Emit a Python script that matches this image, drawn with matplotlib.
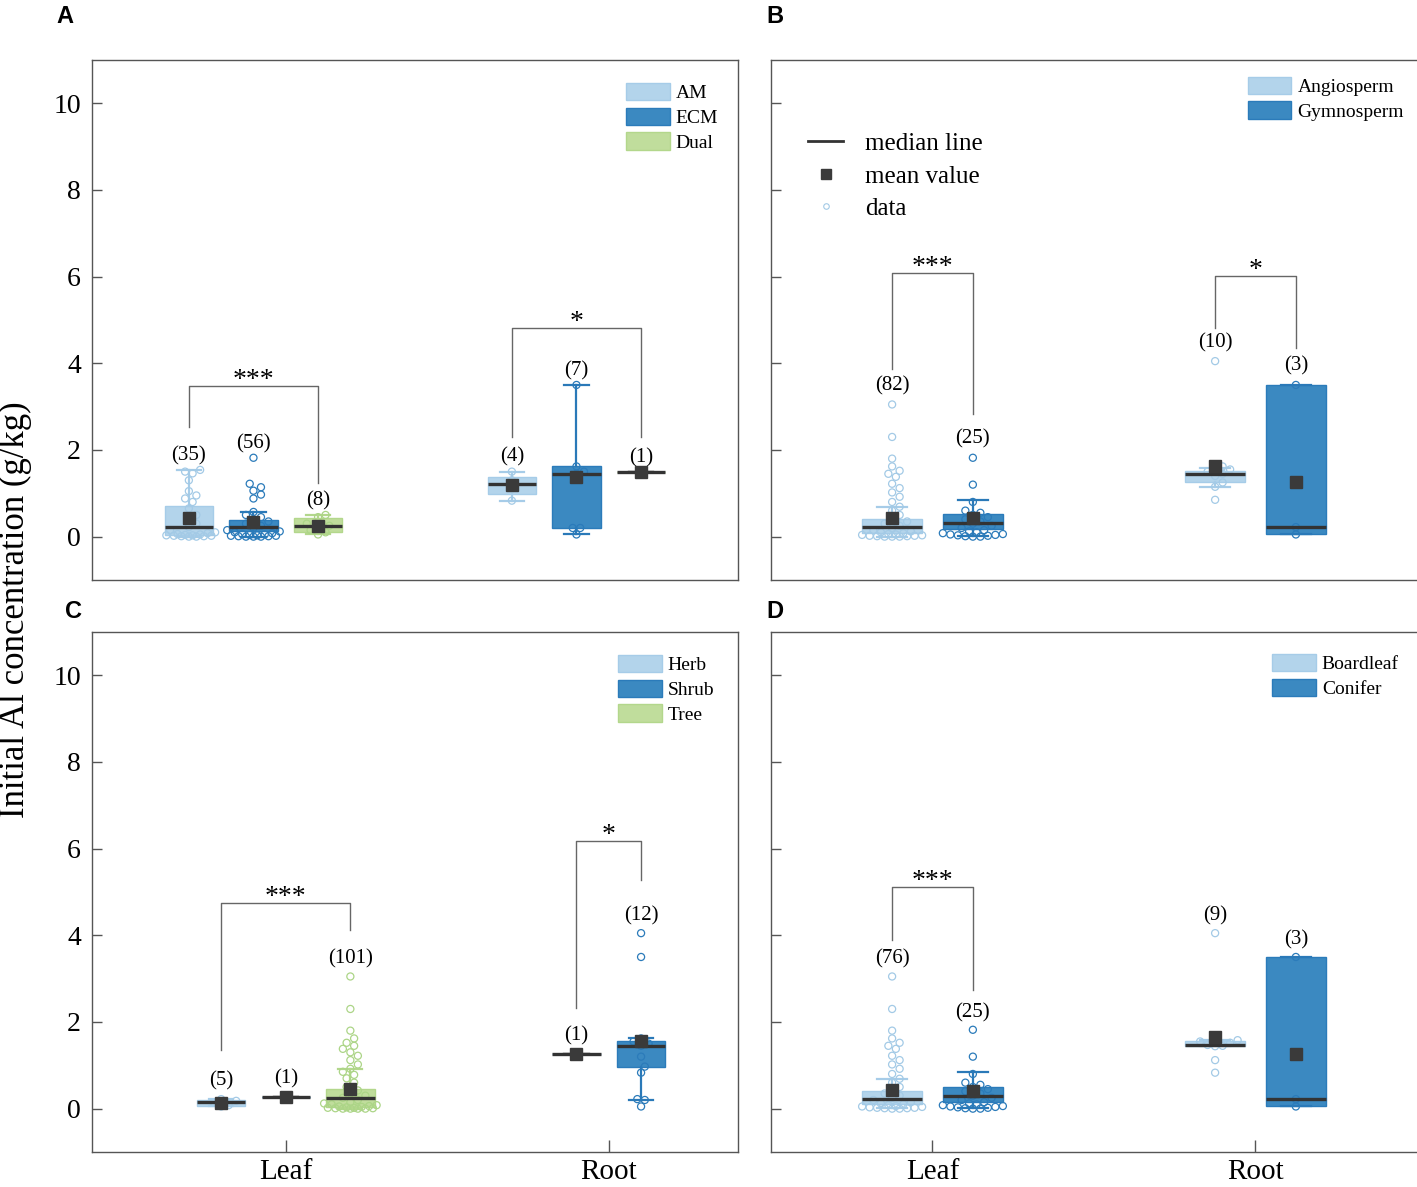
import numpy as np
import matplotlib
matplotlib.use('Agg')
import matplotlib.pyplot as plt
from matplotlib.patches import Patch
from matplotlib.lines import Line2D

plt.rcParams['font.family'] = ['Liberation Serif', 'DejaVu Serif']

# ---------------- dados (g/kg) ----------------
# painel A: micorriza (leaf AM, ECM, Dual | root AM, ECM, Dual)
a_nomes = ['AM', 'ECM', 'Dual']
a_n = [35, 56, 8, 4, 7, 1]
a_med = [0.23, 0.23, 0.25, 1.22, 1.45, 1.48]
a_q1 = [0.03, 0.12, 0.10, 0.99, 0.20, 1.48]
a_q3 = [0.71, 0.38, 0.42, 1.38, 1.62, 1.48]
a_wlo = [0.00, 0.00, 0.05, 0.83, 0.05, 1.48]
a_whi = [1.54, 0.57, 0.50, 1.50, 3.50, 1.48]
a_media = [0.44, 0.33, 0.25, 1.20, 1.38, 1.48]
a_pontos = [
    [1.54, 1.50, 1.46, 1.30, 1.05, 0.95, 0.88, 0.80, 0.65, 0.50, 0.40, 0.30, 0.22, 0.15,
     0.10, 0.08, 0.06, 0.05, 0.04, 0.03, 0.03, 0.02, 0.02, 0.01, 0.01, 0.00, 0.00],
    [1.82, 1.22, 1.14, 1.06, 0.97, 0.88, 0.57, 0.50, 0.45, 0.40, 0.35, 0.30, 0.25, 0.20,
     0.15, 0.12, 0.10, 0.08, 0.06, 0.05, 0.04, 0.03, 0.02, 0.02, 0.01, 0.01, 0.00, 0.00, 0.00],
    [0.50, 0.45, 0.30, 0.25, 0.22, 0.15, 0.10, 0.05],
    [1.50, 1.30, 1.12, 0.83],
    [3.50, 1.62, 1.50, 1.45, 0.20, 0.20, 0.05],
    [1.48],
]

# painel B: Angiosperm / Gymnosperm
b_nomes = ['Angiosperm', 'Gymnosperm']
b_n = [82, 25, 10, 3]
b_med = [0.23, 0.32, 1.45, 0.22]
b_q1 = [0.08, 0.18, 1.25, 0.05]
b_q3 = [0.41, 0.53, 1.52, 3.50]
b_wlo = [0.00, 0.02, 1.15, 0.05]
b_whi = [0.69, 0.85, 1.59, 3.50]
b_media = [0.44, 0.43, 1.63, 1.25]
b_pontos = [
    [3.05, 2.30, 1.80, 1.62, 1.52, 1.45, 1.38, 1.22, 1.12, 1.02, 0.92, 0.80, 0.69, 0.60,
     0.50, 0.42, 0.35, 0.30, 0.25, 0.20, 0.15, 0.12, 0.10, 0.08, 0.06, 0.05, 0.04, 0.03,
     0.02, 0.02, 0.01, 0.01, 0.00, 0.00, 0.00],
    [1.82, 1.20, 0.80, 0.60, 0.55, 0.50, 0.45, 0.40, 0.35, 0.30, 0.25, 0.20, 0.15, 0.12,
     0.10, 0.08, 0.06, 0.05, 0.04, 0.03, 0.02, 0.01, 0.00, 0.00],
    [4.05, 1.62, 1.58, 1.55, 1.50, 1.45, 1.40, 1.25, 1.15, 0.85],
    [3.50, 0.22, 0.05],
]

# painel C: Herb / Shrub / Tree (leaf Herb, Shrub, Tree | root Herb, Shrub)
c_nomes = ['Herb', 'Shrub', 'Tree']
c_n = [5, 1, 101, 1, 12]
c_med = [0.16, 0.28, 0.25, 1.27, 1.45]
c_q1 = [0.07, 0.28, 0.03, 1.27, 0.97]
c_q3 = [0.20, 0.28, 0.46, 1.27, 1.57]
c_wlo = [0.05, 0.28, 0.00, 1.27, 0.20]
c_whi = [0.22, 0.28, 0.92, 1.27, 1.62]
c_media = [0.14, 0.28, 0.45, 1.27, 1.57]
c_pontos = [
    [0.22, 0.18, 0.15, 0.08, 0.05],
    [0.28],
    [3.05, 2.30, 1.80, 1.62, 1.52, 1.45, 1.38, 1.30, 1.22, 1.12, 1.02, 0.92, 0.85, 0.78,
     0.70, 0.60, 0.50, 0.42, 0.35, 0.30, 0.25, 0.20, 0.15, 0.12, 0.10, 0.08, 0.06, 0.05,
     0.04, 0.03, 0.02, 0.02, 0.01, 0.01, 0.00, 0.00, 0.00, 0.00],
    [1.27],
    [4.05, 3.50, 1.62, 1.55, 1.50, 1.45, 1.20, 0.97, 0.83, 0.22, 0.20, 0.05],
]

# painel D: Boardleaf / Conifer
d_nomes = ['Boardleaf', 'Conifer']
d_n = [76, 25, 9, 3]
d_med = [0.23, 0.30, 1.47, 0.22]
d_q1 = [0.10, 0.16, 1.44, 0.05]
d_q3 = [0.41, 0.51, 1.55, 3.50]
d_wlo = [0.02, 0.02, 1.44, 0.05]
d_whi = [0.69, 0.85, 1.58, 3.50]
d_media = [0.44, 0.41, 1.66, 1.25]
d_pontos = [
    [3.05, 2.30, 1.80, 1.62, 1.52, 1.45, 1.38, 1.22, 1.12, 1.02, 0.92, 0.80, 0.69, 0.60,
     0.50, 0.42, 0.35, 0.30, 0.25, 0.20, 0.15, 0.12, 0.10, 0.08, 0.06, 0.05, 0.04, 0.03,
     0.02, 0.02, 0.01, 0.01, 0.00, 0.00],
    [1.82, 1.20, 0.80, 0.60, 0.55, 0.50, 0.45, 0.40, 0.35, 0.30, 0.25, 0.20, 0.15, 0.12,
     0.10, 0.08, 0.06, 0.05, 0.04, 0.03, 0.02, 0.01, 0.00, 0.00],
    [4.05, 1.58, 1.55, 1.52, 1.47, 1.45, 1.44, 1.12, 0.83],
    [3.50, 0.22, 0.05],
]

# significancia: (caixa i, caixa j, topo, perna esq, perna dir, texto)
a_sig = [(0, 2, 3.48, 2.53, 1.24, '***'), (3, 5, 4.82, 2.30, 2.30, '*')]
b_sig = [(0, 1, 6.08, 3.87, 2.83, '***'), (2, 3, 6.01, 4.82, 4.35, '*')]
c_sig = [(0, 2, 4.75, 1.36, 4.12, '***'), (3, 4, 6.18, 2.33, 5.28, '*')]
d_sig = [(0, 1, 5.12, 3.90, 2.74, '***')]

# ---------------- estilo ----------------
CLARO = dict(face='#b3d4eb', edge='#a6cce8', whisk='#a6cce8', pt='#a3cae6')
MEDIO = dict(face='#3b89c1', edge='#2b7bba', whisk='#2a79b8', pt='#2b7bba')
VERDE = dict(face='#c0dd9c', edge='#b3d78c', whisk='#b3d78c', pt='#acd587')
ESCURO = '#333333'
SPINE = '#555555'

a_pos = [0.70, 0.90, 1.10, 1.70, 1.90, 2.10]
a_cor = [CLARO, MEDIO, VERDE, CLARO, MEDIO, VERDE]
b_pos = [0.875, 1.125, 1.875, 2.125]
b_cor = [CLARO, MEDIO, CLARO, MEDIO]
c_pos = [0.80, 1.00, 1.20, 1.90, 2.10]
c_cor = [CLARO, MEDIO, VERDE, CLARO, MEDIO]
d_pos = b_pos
d_cor = b_cor


def espalhar(ax, x0, valores, meia_larg, diam=7.5):
    # beeswarm simples em pixels
    trans = ax.transData
    ordem = np.argsort(valores)
    colocados = []
    xs = np.zeros(len(valores))
    px0 = trans.transform((x0, 0))[0]
    px_hw = trans.transform((x0 + meia_larg, 0))[0] - px0
    cands = np.arange(0, px_hw + 0.1, diam / 2)
    cands = np.concatenate([[0], np.ravel(np.column_stack([cands[1:], -cands[1:]]))])
    for i in ordem:
        py = trans.transform((x0, valores[i]))[1]
        melhor, melhor_d = 0, -1
        for c in cands:
            if colocados:
                d = min(np.hypot(c - cx, py - cy) for cx, cy in colocados)
            else:
                d = 1e9
            if d >= diam * 0.95:
                melhor = c
                break
            if d > melhor_d:
                melhor, melhor_d = c, d
        colocados.append((melhor, py))
        xs[i] = trans.inverted().transform((px0 + melhor, py))[0]
    return xs


def painel(ax, pos, cores, n, med, q1, q3, wlo, whi, media, pontos, sig,
           larg, xlim, nomes, legenda_cores, off_n, leg_xy):
    ax.set_xlim(*xlim)
    ax.set_ylim(-1, 11)
    for k in range(len(pos)):
        st = dict(med=med[k], q1=q1[k], q3=q3[k], whislo=wlo[k], whishi=whi[k],
                  mean=media[k], fliers=[])
        cor = cores[k]
        wc = cor['whisk'] if n[k] > 1 else ESCURO
        r = ax.bxp([st], positions=[pos[k]], widths=larg, patch_artist=True,
                   showmeans=True, showfliers=False, manage_ticks=False,
                   capwidths=larg * 0.5,
                   boxprops=dict(facecolor=cor['face'], edgecolor=cor['edge'], lw=1),
                   whiskerprops=dict(color=wc, lw=1.6),
                   capprops=dict(color=wc, lw=1.6),
                   medianprops=dict(color=ESCURO, lw=2.4, solid_capstyle='butt'),
                   meanprops=dict(marker='s', markerfacecolor='#3a3a3a',
                                  markeredgecolor='#3a3a3a', markersize=8.5))
        for b in r['boxes']:
            b.set_zorder(2)
        for m in r['medians']:
            m.set_zorder(4)
        for m in r['means']:
            m.set_zorder(5)
        if n[k] > 1:
            xs = espalhar(ax, pos[k], pontos[k], larg * 0.6)
            ax.scatter(xs, pontos[k], s=26, facecolors='none', edgecolors=cor['pt'],
                       linewidths=0.9, zorder=3)
        ax.text(pos[k], max(pontos[k]) + off_n, f'({n[k]})', ha='center', va='center',
                fontsize=15)
    for i, j, topo, e, d, txt in sig:
        ax.plot([pos[i], pos[i], pos[j], pos[j]], [e, topo, topo, d], color='#666666',
                lw=1.0, zorder=1)
        ax.text((pos[i] + pos[j]) / 2, topo - 0.16, txt, ha='center', va='bottom',
                fontsize=20)
    hs = [Patch(facecolor=c['face'], edgecolor=c['edge']) for c in legenda_cores]
    leg = ax.legend(hs, nomes, loc='upper left', bbox_to_anchor=leg_xy, frameon=False,
                    fontsize=14, handlelength=2.25, handleheight=1.0, labelspacing=0.28,
                    handletextpad=0.3, borderpad=0, borderaxespad=0)
    ax.set_yticks([0, 2, 4, 6, 8, 10])
    ax.tick_params(axis='y', direction='in', length=7, width=1, color=SPINE,
                   labelsize=20, pad=8)
    for s in ax.spines.values():
        s.set_color(SPINE)
        s.set_linewidth(1)
    return leg


fig = plt.figure(figsize=(14.17, 11.87), dpi=100)
axA = fig.add_axes([0.0649, 0.5114, 0.4559, 0.4381])
axB = fig.add_axes([0.5441, 0.5114, 0.4559, 0.4381])
axC = fig.add_axes([0.0649, 0.0295, 0.4559, 0.4381])
axD = fig.add_axes([0.5441, 0.0295, 0.4559, 0.4381])

painel(axA, a_pos, a_cor, a_n, a_med, a_q1, a_q3, a_wlo, a_whi, a_media, a_pontos, a_sig,
       0.15, (0.4, 2.4), a_nomes, [CLARO, MEDIO, VERDE], 0.33, (0.827, 0.956))
legB = painel(axB, b_pos, b_cor, b_n, b_med, b_q1, b_q3, b_wlo, b_whi, b_media, b_pontos,
              b_sig, 0.186, (0.5, 2.5), b_nomes, [CLARO, MEDIO], 0.43, (0.738, 0.968))
painel(axC, c_pos, c_cor, c_n, c_med, c_q1, c_q3, c_wlo, c_whi, c_media, c_pontos, c_sig,
       0.15, (0.4, 2.4), c_nomes, [CLARO, MEDIO, VERDE], 0.41, (0.814, 0.956))
painel(axD, d_pos, d_cor, d_n, d_med, d_q1, d_q3, d_wlo, d_whi, d_media, d_pontos, d_sig,
       0.186, (0.5, 2.5), d_nomes, [CLARO, MEDIO], 0.40, (0.776, 0.958))

# legenda dos simbolos no painel B
axB.add_artist(legB)
simbolos = [Line2D([], [], color=ESCURO, lw=2),
            Line2D([], [], marker='s', color='#3a3a3a', ls='none', markersize=7),
            Line2D([], [], marker='o', mfc='none', mec=CLARO['pt'], ls='none',
                   markersize=4, mew=0.8)]
axB.legend(simbolos, ['median line', 'mean value', 'data'], loc='upper left',
           bbox_to_anchor=(0.058, 0.86), frameon=False, fontsize=18, handlelength=1.4,
           handletextpad=0.85, labelspacing=0.4, borderpad=0, borderaxespad=0)

for ax in (axA, axB):
    ax.set_xticks([])
for ax in (axC, axD):
    ax.set_xticks([1, 2])
    ax.set_xticklabels(['Leaf', 'Root'])
    ax.tick_params(axis='x', direction='in', length=9, width=1, color=SPINE,
                   labelsize=21, pad=5)
for ax in (axB, axD):
    ax.tick_params(axis='y', labelleft=False)
    ax.spines['right'].set_visible(False)

for letra, x, y in [('A', 0.046, 0.986), ('B', 0.547, 0.986), ('C', 0.052, 0.485),
                    ('D', 0.547, 0.485)]:
    fig.text(x, y, letra, fontsize=17, fontweight='bold', family='Liberation Sans',
             ha='center', va='center')

fig.text(0.0106, 0.486, 'Initial Al concentration (g/kg)', rotation=90, fontsize=25,
         ha='center', va='center')

fig.savefig('out.png', dpi=100)
